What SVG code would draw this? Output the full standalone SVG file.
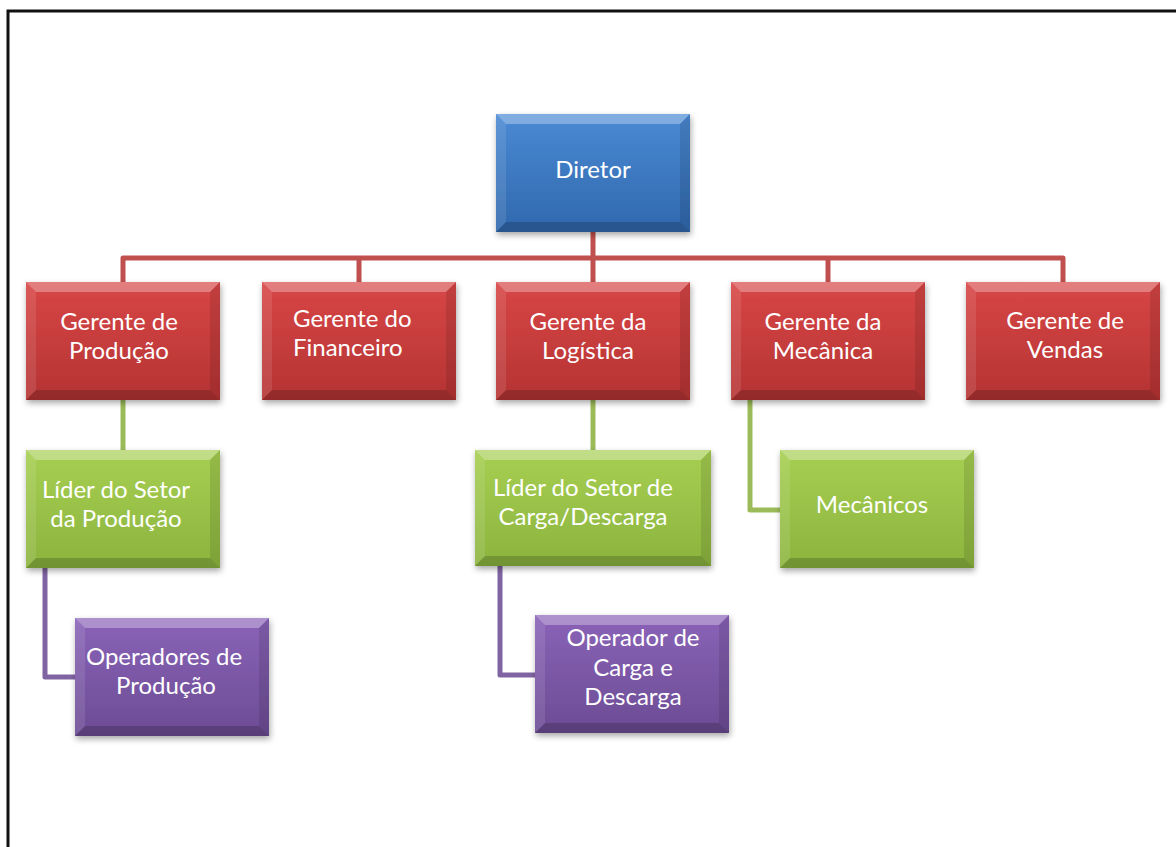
<svg xmlns="http://www.w3.org/2000/svg" xmlns:xlink="http://www.w3.org/1999/xlink" width="1176" height="847" viewBox="0 0 1176 847">
<style>
  text { font-family: Lato, "Open Sans", "Liberation Sans", sans-serif; font-size: 24px; fill: #ffffff; text-anchor: middle; }
  .conn { fill: none; stroke-width: 5; stroke-linejoin: round; }
  .red-c { stroke: #c0504d; }
  .green-c { stroke: #9bbb59; }
  .purple-c { stroke: #8064a2; }
  .bt { fill: #ffffff; fill-opacity: 0.3; }
  .bl { fill: #ffffff; fill-opacity: 0.1; }
  .br { fill: #000000; fill-opacity: 0.1; }
  .bb { fill: #000000; fill-opacity: 0.18; }
</style>
<defs>
  <linearGradient id="gBlue" x1="0" y1="0" x2="0" y2="1">
    <stop offset="0" stop-color="#4a8ad4"/><stop offset="1" stop-color="#3068ad"/>
  </linearGradient>
  <linearGradient id="gRed" x1="0" y1="0" x2="0" y2="1">
    <stop offset="0" stop-color="#d84646"/><stop offset="1" stop-color="#b53333"/>
  </linearGradient>
  <linearGradient id="gGreen" x1="0" y1="0" x2="0" y2="1">
    <stop offset="0" stop-color="#a6cf52"/><stop offset="1" stop-color="#8cb43e"/>
  </linearGradient>
  <linearGradient id="gPurple" x1="0" y1="0" x2="0" y2="1">
    <stop offset="0" stop-color="#8a63b8"/><stop offset="1" stop-color="#6c4c94"/>
  </linearGradient>
  <filter id="sh" x="-10%" y="-10%" width="125%" height="130%">
    <feDropShadow dx="1" dy="3" stdDeviation="3" flood-color="#000" flood-opacity="0.35"/>
  </filter>
  <g id="bev">
    <polygon class="bt" points="0,0 194,0 184,10 10,10"/>
    <polygon class="bl" points="0,0 10,10 10,108 0,118"/>
    <polygon class="br" points="194,0 194,118 184,108 184,10"/>
    <polygon class="bb" points="0,118 194,118 184,108 10,108"/>
  </g>
</defs>
<rect x="0" y="0" width="1176" height="847" fill="#ffffff"/>
<path d="M8,847 V11 H1176" fill="none" stroke="#111" stroke-width="3"/>

<g id="connectors">
  <path class="conn red-c" d="M593,232 V258 M123,282 V258 H1063 V282 M359,258 V282 M593,258 V282 M828,258 V282"/>
  <path class="conn green-c" d="M123,400 V450 M593,400 V450 M750,400 V510 H780"/>
  <path class="conn purple-c" d="M45,568 V677 H75 M500,566 V675 H535"/>
</g>

<g id="n-diretor">
  <rect x="496" y="114" width="194" height="118" fill="url(#gBlue)" filter="url(#sh)"/>
  <use xlink:href="#bev" x="496" y="114"/>
  <text x="593" y="178">Diretor</text>
</g>

<g id="n-producao">
  <rect x="26" y="282" width="194" height="118" fill="url(#gRed)" filter="url(#sh)"/>
  <use xlink:href="#bev" x="26" y="282"/>
  <text x="119" y="330">Gerente de</text>
  <text x="119" y="359">Produção</text>
</g>

<g id="n-financeiro">
  <rect x="262" y="282" width="194" height="118" fill="url(#gRed)" filter="url(#sh)"/>
  <use xlink:href="#bev" x="262" y="282"/>
  <text x="293" y="327" style="text-anchor:start">Gerente do</text>
  <text x="293" y="356" style="text-anchor:start">Financeiro</text>
</g>

<g id="n-logistica">
  <rect x="496" y="282" width="194" height="118" fill="url(#gRed)" filter="url(#sh)"/>
  <use xlink:href="#bev" x="496" y="282"/>
  <text x="588" y="330">Gerente da</text>
  <text x="588" y="359">Logística</text>
</g>

<g id="n-mecanica">
  <rect x="731" y="282" width="194" height="118" fill="url(#gRed)" filter="url(#sh)"/>
  <use xlink:href="#bev" x="731" y="282"/>
  <text x="823" y="330">Gerente da</text>
  <text x="823" y="359">Mecânica</text>
</g>

<g id="n-vendas">
  <rect x="966" y="282" width="194" height="118" fill="url(#gRed)" filter="url(#sh)"/>
  <use xlink:href="#bev" x="966" y="282"/>
  <text x="1065" y="329">Gerente de</text>
  <text x="1065" y="358">Vendas</text>
</g>

<g id="n-lider-producao">
  <rect x="26" y="450" width="194" height="118" fill="url(#gGreen)" filter="url(#sh)"/>
  <use xlink:href="#bev" x="26" y="450"/>
  <text x="116" y="498">Líder do Setor</text>
  <text x="116" y="527">da Produção</text>
</g>

<g id="n-lider-carga">
  <rect x="475" y="450" width="236" height="116" fill="url(#gGreen)" filter="url(#sh)"/>
  <polygon class="bt" points="475,450 711,450 701,460 485,460"/>
  <polygon class="bl" points="475,450 485,460 485,556 475,566"/>
  <polygon class="br" points="711,450 711,566 701,556 701,460"/>
  <polygon class="bb" points="475,566 711,566 701,556 485,556"/>
  <text x="583" y="496">Líder do Setor de</text>
  <text x="583" y="525">Carga/Descarga</text>
</g>

<g id="n-mecanicos">
  <rect x="780" y="450" width="194" height="118" fill="url(#gGreen)" filter="url(#sh)"/>
  <use xlink:href="#bev" x="780" y="450"/>
  <text x="872" y="513">Mecânicos</text>
</g>

<g id="n-operadores">
  <rect x="75" y="618" width="194" height="118" fill="url(#gPurple)" filter="url(#sh)"/>
  <use xlink:href="#bev" x="75" y="618"/>
  <text x="164" y="665">Operadores de</text>
  <text x="166" y="694">Produção</text>
</g>

<g id="n-operador-carga">
  <rect x="535" y="615" width="194" height="118" fill="url(#gPurple)" filter="url(#sh)"/>
  <use xlink:href="#bev" x="535" y="615"/>
  <text x="633" y="646">Operador de</text>
  <text x="633" y="676">Carga e</text>
  <text x="633" y="705">Descarga</text>
</g>
</svg>
